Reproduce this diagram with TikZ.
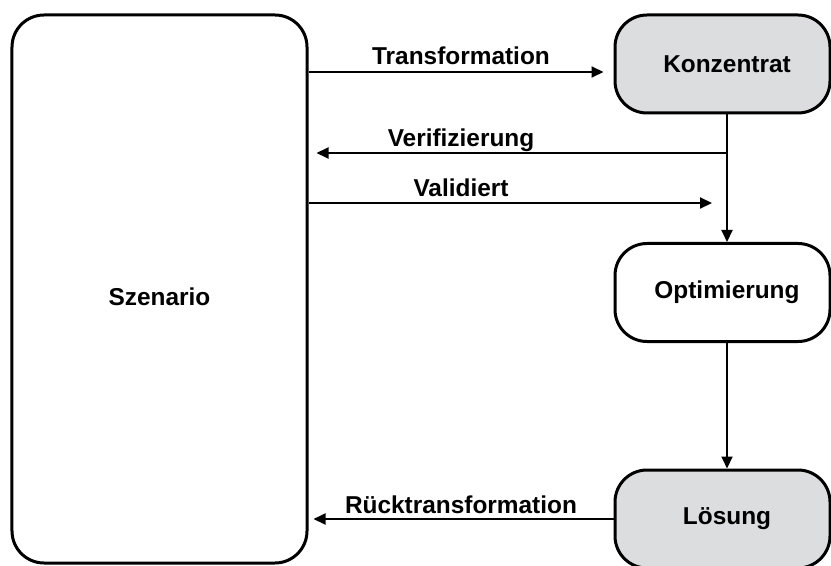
\documentclass[tikz,border=0pt]{standalone}
\usepackage{fontspec}
\setmainfont{Liberation Sans}
\usetikzlibrary{arrows.meta,calc}
\definecolor{boxgray}{RGB}{220,221,223}
\begin{document}
\begin{tikzpicture}[x=1bp,y=-1bp,
  font=\fontsize{24.5}{28}\selectfont\bfseries,
  block/.style={draw, line width=3bp, rounded corners=32bp, inner sep=0pt},
  stepbox/.style={block, minimum width=215bp, minimum height=98bp},
  shaded/.style={fill=boxgray},
  flow/.style={line width=2bp, -{Triangle[length=12bp,width=11bp]}},
  lbl/.style={anchor=base, inner sep=0pt}]
\useasboundingbox (0,0) rectangle (831,566);
\clip (0,0) rectangle (831,566);

% boxes
\node[block, minimum width=295bp, minimum height=548bp] (sz) at (159.5,289)
  {\raisebox{-8bp}[\height][\depth]{Szenario}};
\node[stepbox, shaded] (konz) at (722.5,64) {\hspace*{9bp}Konzentrat};
\node[stepbox] (opt) at (722.5,292.5) {\hspace*{9bp}Optimierung};
\node[stepbox, shaded] (los) at (722.5,519) {\hspace*{9bp}Lösung};

% reference points for the connector rows
\coordinate (yT) at (0,72);
\coordinate (yV) at (0,153);
\coordinate (yA) at (0,203);
\coordinate (ks) at ([xshift=4.5bp]konz.south);
\coordinate (on) at ([xshift=4.5bp]opt.north);
\coordinate (os) at ([xshift=4.5bp]opt.south);
\coordinate (ln) at ([xshift=4.5bp]los.north);
\coordinate (vV) at (ks |- yV);
\coordinate (vA) at (ks |- yA);

% connectors
\draw[flow, shorten >=10bp] (sz.east |- yT) -- (konz.west |- yT);
\draw[flow, -] (ks) -- (vV);
\draw[flow, shorten >=8bp] (vV) -- (sz.east |- yV);
\draw[flow] (vV) -- (on);
\draw[flow, shorten >=15bp] (sz.east |- yA) -- (vA);
\draw[flow] (os) -- (ln);
\draw[flow, shorten >=5bp] (los.west) -- (sz.east |- los.west);

% connector labels
\node[lbl] (tT) at (461,65) {Transformation};
\node[lbl] (tV) at (461,147) {Verifizierung};
\node[lbl] (tA) at (461,197) {Validiert};
\node[lbl] (tR) at (461,513) {Rücktransformation};
\end{tikzpicture}
\end{document}
